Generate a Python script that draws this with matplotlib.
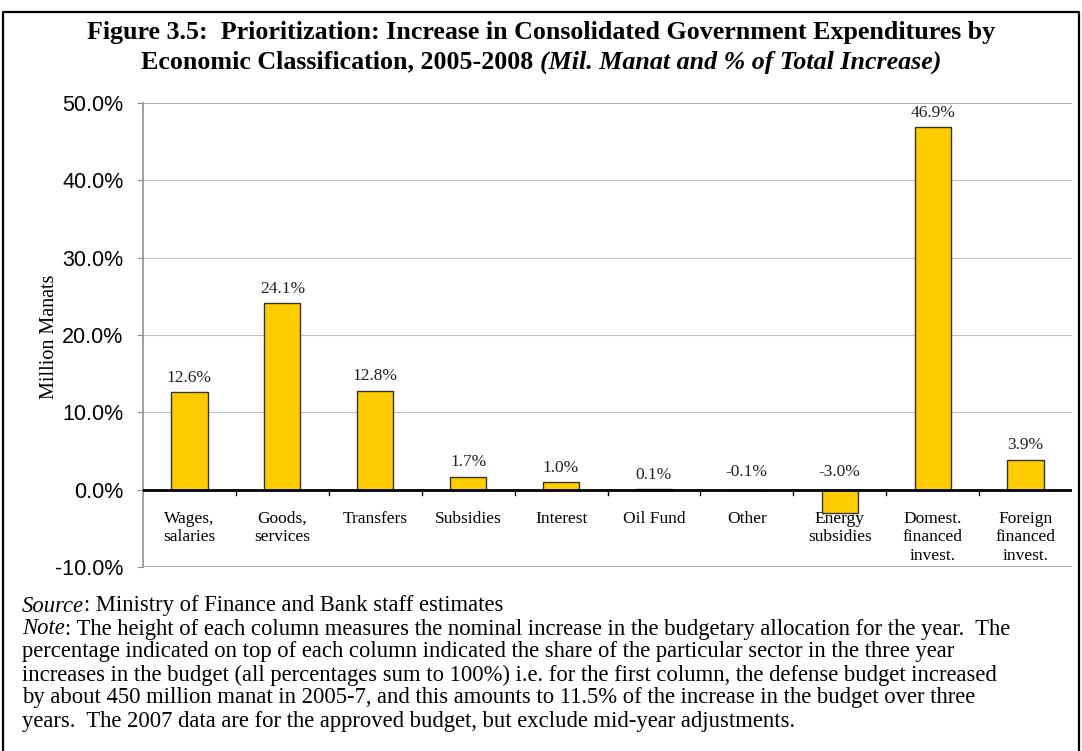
"""Figure 3.5: increase in consolidated government expenditures by economic classification."""
import matplotlib
matplotlib.use('Agg')
import matplotlib.pyplot as plt
from matplotlib.lines import Line2D
import numpy as np

# Data
categories = ['Wages,\nsalaries', 'Goods,\nservices', 'Transfers', 'Subsidies',
              'Interest', 'Oil Fund', 'Other', 'Energy\nsubsidies',
              'Domest.\nfinanced\ninvest.', 'Foreign\nfinanced\ninvest.']
values = [12.6, 24.1, 12.8, 1.7, 1.0, 0.1, -0.1, -3.0, 46.9, 3.9]
labels = ['12.6%', '24.1%', '12.8%', '1.7%', '1.0%', '0.1%', '-0.1%',
          '-3.0%', '46.9%', '3.9%']
yticks = [-10, 0, 10, 20, 30, 40, 50]

SERIF = ['Liberation Serif', 'DejaVu Serif']
SANS = ['Liberation Sans', 'DejaVu Sans']
BAR = '#FFCC00'
GRID = '#C0C0C0'

W, H = 1082, 751
fig = plt.figure(figsize=(W / 100, H / 100), dpi=100)
fig.patch.set_facecolor('white')

# axes placed in pixel terms
x0, x1 = 143, 1072
ytop, ybot = 103, 567
ax = fig.add_axes([x0 / W, 1 - ybot / H, (x1 - x0) / W, (ybot - ytop) / H])
ax.set_xlim(-0.5, len(values) - 0.5)
ax.set_ylim(-10, 50)

x = np.arange(len(values))
ax.bar(x, values, width=0.39, color=BAR, edgecolor='#333333', linewidth=1.0, zorder=3)

# gridlines
for t in yticks:
    col = '#A0A0A0' if t in (-10, 50) else GRID
    ax.axhline(t, color=col, lw=1.2 if t in (-10, 50) else 0.8, zorder=6 if t == -10 else 1)

# zero axis with category separators
ax.axhline(0, color='black', lw=2.0, zorder=4)
for b in np.arange(0.5, len(values) - 0.5, 1.0):
    ax.plot([b, b], [0, -0.75], color='black', lw=1.0, zorder=4, clip_on=False)

for s in ax.spines.values():
    s.set_visible(False)
ax.spines['left'].set_visible(True)
ax.spines['left'].set_color('#909090')
ax.spines['left'].set_linewidth(1.2)

ax.set_xticks([])
ax.set_yticks(yticks)
ax.set_yticklabels([f'{t:.1f}%' for t in yticks], fontsize=15.5, family=SANS)
ax.tick_params(axis='y', direction='out', length=4, color='#909090', pad=10)

# value labels above / near bars
for xi, v, lab in zip(x, values, labels):
    top = max(v, 0)
    if v < 0:
        top = 0.4
    ax.text(xi, top + 0.8, lab, ha='center', va='bottom', fontsize=12.5,
            family=SERIF, color='#222222', zorder=5)

# category labels (clipped at the plot bottom like the original)
for xi, c in zip(x, categories):
    ax.text(xi, -2.75, c, ha='center', va='top', fontsize=12.5, family=SERIF,
            linespacing=1.2, zorder=2, clip_on=True)

fig.text(50 / W, 1 - 337 / H, 'Million Manats', rotation=90, ha='center',
         va='center', fontsize=14.5, family=SERIF)

# title: second line mixes bold and bold italic, so lay the pieces side by side
fig.text(0.5, 1 - 32 / H, 'Figure 3.5:  Prioritization: Increase in Consolidated Government Expenditures by',
         ha='center', va='center', fontsize=18.7, fontweight='bold', family=SERIF)
t_a = fig.text(0, 1 - 62 / H, 'Economic Classification, 2005-2008 ', ha='left', va='center',
               fontsize=18.7, fontweight='bold', family=SERIF)
t_b = fig.text(0, 1 - 62 / H, '(Mil. Manat and % of Total Increase)', ha='left', va='center',
               fontsize=18.7, fontweight='bold', style='italic', family=SERIF)
fig.canvas.draw()
r = fig.canvas.get_renderer()
wa = t_a.get_window_extent(r).width
wb = t_b.get_window_extent(r).width
start = (W - wa - wb) / 2
t_a.set_x(start / W)
t_b.set_x((start + wa) / W)

# source and note
notes = [
    ('Source', ': Ministry of Finance and Bank staff estimates'),
    ('Note', ': The height of each column measures the nominal increase in the budgetary allocation for the year.  The'),
    (None, 'percentage indicated on top of each column indicated the share of the particular sector in the three year'),
    (None, 'increases in the budget (all percentages sum to 100%) i.e. for the first column, the defense budget increased'),
    (None, 'by about 450 million manat in 2005-7, and this amounts to 11.5% of the increase in the budget over three'),
    (None, 'years.  The 2007 data are for the approved budget, but exclude mid-year adjustments.'),
]
ys = [606, 629, 652, 675, 698, 721]
for (it, rest), yp in zip(notes, ys):
    xp = 22 / W
    if it:
        t = fig.text(xp, 1 - yp / H, it, ha='left', va='center', fontsize=16.3,
                     family=SERIF, style='italic')
        xp = t.get_window_extent(r).x1 / W
    fig.text(xp, 1 - yp / H, rest, ha='left', va='center', fontsize=16.3, family=SERIF)

# outer frame (left, top, right)
fig.add_artist(Line2D([3 / W, 3 / W, 1079 / W, 1079 / W],
                      [-0.01, 1 - 12 / H, 1 - 12 / H, -0.01],
                      transform=fig.transFigure, color='black', lw=1.6))

fig.savefig('out.png', dpi=100, facecolor='white')
